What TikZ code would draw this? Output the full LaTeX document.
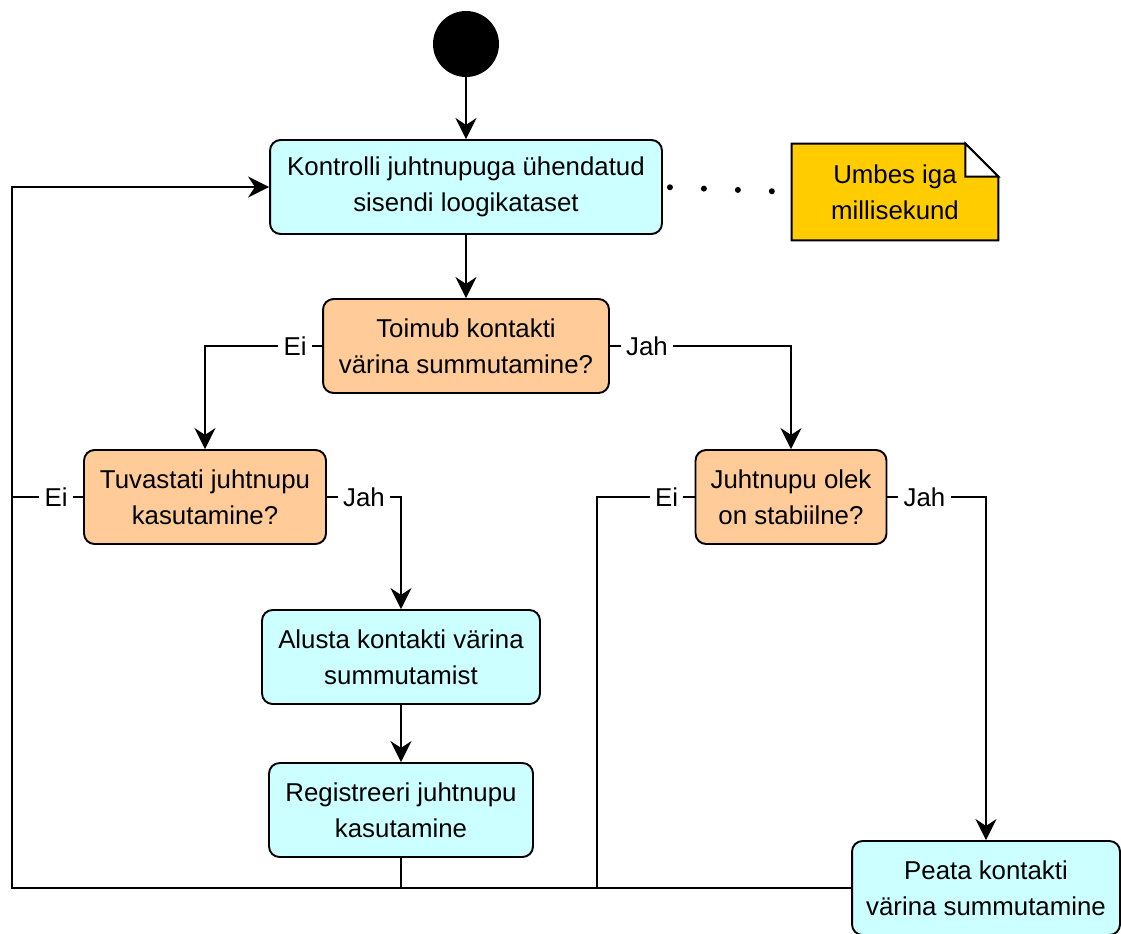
\documentclass[tikz,border=0pt]{standalone}
\usepackage{fontspec}
\setmainfont{Liberation Sans}
\usepackage{tikz}
\usetikzlibrary{arrows.meta,backgrounds}
\definecolor{palecyan}{rgb}{0.8, 1, 1}
\definecolor{palepeach}{rgb}{1, 0.8, 0.6}
\definecolor{amber}{rgb}{1, 0.8, 0}
\tikzset{
  tegevus/.style={
    rounded corners=6pt,
    draw=black,
    line width=1.1pt,
    fill=palecyan,
    align=center,
    minimum height=1.88cm,
    inner sep=4pt,
    font=\fontsize{14.7}{20.5}\selectfont
  },
  otsus/.style={
    tegevus,
    fill=palepeach
  },
  algus/.style={
    circle,
    fill=black,
    minimum size=1.32cm,
    inner sep=0pt
  },
  markus/.style={
    align=center,
    minimum width=4.12cm,
    minimum height=1.92cm,
    inner sep=4pt,
    font=\fontsize{14.7}{20.5}\selectfont
  },
  lehekuju/.style={
    draw=black,
    line width=1.1pt,
    fill=amber,
    line join=miter
  },
  silt/.style={
    fill=white,
    inner sep=3pt,
    font=\fontsize{14.7}{20.5}\selectfont
  },
  joon/.style={
    line width=1.1pt,
    black
  },
  arrow/.style={
    joon,
    -{Stealth[length=0.42cm,width=0.42cm]}
  },
  punktid/.style={
    line width=0.12cm,
    line cap=round,
    dash pattern=on 0pt off 0.68cm,
    dash phase=0.54cm
  }
}

\begin{document}
\begin{tikzpicture}[x=0.02cm,y=-0.02cm]
\useasboundingbox (0,0) rectangle (1121,933);
\node[algus] (start) at (466,44) {};
\node[tegevus, minimum width=7.84cm] (kontroll) at (466,187) {Kontrolli juhtnupuga ühendatud\\sisendi loogikataset};
\node[markus] (note) at (895,192) {Umbes iga\\millisekund};
\node[otsus, minimum width=5.72cm] (toimub) at (466,346) {Toimub kontakti\\värina summutamine?};
\node[otsus, minimum width=4.84cm] (tuvastati) at (205,497) {Tuvastati juhtnupu\\kasutamine?};
\node[otsus, minimum width=3.82cm] (stabiilne) at (791,497) {Juhtnupu olek\\on stabiilne?};
\node[tegevus, minimum width=5.56cm] (alusta) at (401,657) {Alusta kontakti värina\\summutamist};
\node[tegevus, minimum width=5.28cm] (registreeri) at (401,810) {Registreeri juhtnupu\\kasutamine};
\node[tegevus, minimum width=5.36cm] (peata) at (986,888) {Peata kontakti\\värina summutamine};
\coordinate (tagasi) at (12,888);
\coordinate (eitagasi) at (597,888);

% note with folded corner
\begin{scope}[on background layer]
\draw[lehekuju] (note.south west) -- (note.north west) -- ([xshift=-0.66cm]note.north east)
  -- ([yshift=-0.66cm]note.north east) -- (note.south east) -- cycle;
\draw[lehekuju, fill=white] ([xshift=-0.66cm]note.north east) -- ([xshift=-0.66cm,yshift=-0.66cm]note.north east)
  -- ([yshift=-0.66cm]note.north east) -- cycle;
\end{scope}
\draw[punktid] (kontroll.east) -- (note.west);

\draw[arrow] (start) -- (kontroll);
\draw[arrow] (kontroll) -- (toimub);
\draw[arrow] (toimub.west) -- ++(-27,0) node[silt] {Ei} -| (tuvastati.north);
\draw[arrow] (toimub.east) -- ++(37,0) node[silt] {Jah} -| (stabiilne.north);
\draw[arrow] (tuvastati.east) -- ++(37,0) node[silt] {Jah} -| (alusta.north);
\draw[joon] (tuvastati.west) -- ++(-27,0) node[silt] {Ei} -- (tuvastati.west -| tagasi);
\draw[arrow] (alusta) -- (registreeri);
\draw[arrow] (stabiilne.east) -- ++(37,0) node[silt] {Jah} -| (peata.north);
\draw[joon] (stabiilne.west) -- ++(-28,0) node[silt] {Ei} -| (eitagasi);
\draw[joon] (registreeri.south) -- (registreeri.south |- tagasi);
\draw[arrow] (peata.west) -- (peata.west -| tagasi) |- (kontroll.west);
\end{tikzpicture}
\end{document}
